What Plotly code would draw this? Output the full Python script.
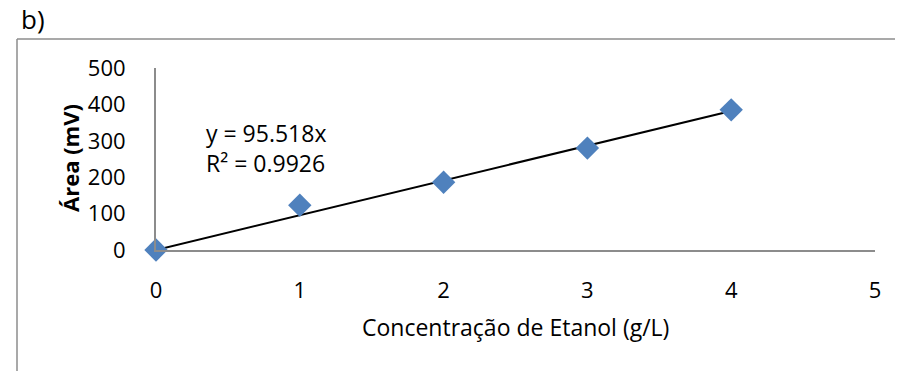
import plotly.graph_objects as go

conc = [0, 1, 2, 3, 4]
area = [0, 123, 186, 280, 385]
slope = 95.518
eq_text = "y = 95.518x<br>R² = 0.9926"
x_title = "Concentração de Etanol (g/L)"
y_title = "<b>Área (mV)</b>"
panel_label = "b)"

OFF = 8  # default page body margin
W, H = 903 - OFF, 371 - OFF
L, R, T, B = 156 - OFF, 28, 68 - OFF, 121
pw, ph = W - L - R, H - T - B

def px(x):
    return (x - OFF - L) / pw

def py(y):
    return (H - B - (y - OFF)) / ph

FONT = "Open Sans"

fig = go.Figure()
fig.add_trace(go.Scatter(
    x=[0, conc[-1]], y=[0, slope * conc[-1]], mode="lines",
    line=dict(color="black", width=2), showlegend=False, hoverinfo="skip"))
fig.add_trace(go.Scatter(
    x=conc, y=area, mode="markers", cliponaxis=False,
    marker=dict(symbol="diamond", size=18, color="#4F81BD"),
    showlegend=False))

fig.update_layout(
    width=W, height=H,
    margin=dict(l=L, r=R, t=T, b=B, autoexpand=False),
    paper_bgcolor="white", plot_bgcolor="white",
    font=dict(family=FONT, size=22, color="black"),
    xaxis=dict(range=[0, 5], tickvals=[0, 1, 2, 3, 4, 5], showgrid=False,
               zeroline=False, showline=True, linecolor="#8c8c8c", linewidth=2,
               ticks="", ticklabelstandoff=20, automargin=False),
    yaxis=dict(range=[0, 500], tickvals=[0, 100, 200, 300, 400, 500], showgrid=False,
               zeroline=False, showline=True, linecolor="#8c8c8c", linewidth=2,
               ticks="", ticklabelstandoff=24, automargin=False),
    shapes=[
        dict(type="line", xref="paper", yref="paper", x0=px(17), x1=px(17),
             y0=py(39), y1=py(371 + 5), line=dict(color="#8c8c8c", width=1.5)),
        dict(type="line", xref="paper", yref="paper", x0=px(17), x1=px(903 + 5),
             y0=py(39), y1=py(39), line=dict(color="#8c8c8c", width=1.5)),
    ],
    annotations=[
        dict(text=panel_label, xref="paper", yref="paper", x=px(20), y=py(19),
             xanchor="left", yanchor="middle", showarrow=False, borderpad=0,
             font=dict(size=26, family=FONT)),
        dict(text=eq_text, xref="paper", yref="paper", x=px(204), y=py(148),
             xanchor="left", yanchor="middle", showarrow=False, align="left",
             font=dict(size=23, family=FONT)),
        dict(text=x_title, xref="paper", yref="paper", x=px(515), y=py(327),
             xanchor="center", yanchor="middle", showarrow=False,
             font=dict(size=23, family=FONT)),
        dict(text=y_title, xref="paper", yref="paper", x=px(70), y=py(158),
             xanchor="center", yanchor="middle", showarrow=False, textangle=-90,
             font=dict(size=22, family=FONT)),
    ],
)

fig.write_html("out.html")
